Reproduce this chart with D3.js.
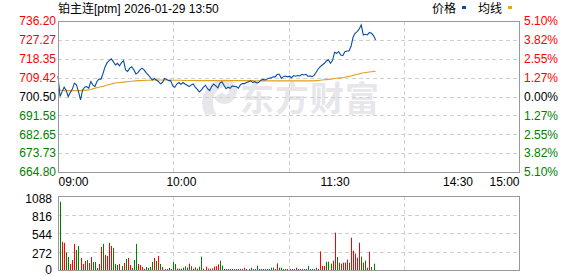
<!DOCTYPE html>
<html>
<head>
<meta charset="utf-8">
<script src="https://cdn.jsdelivr.net/npm/d3@7.9.0/dist/d3.min.js"></script>
<style>
  body { margin: 0; background: #fff; }
  svg { display: block; font-family: Arial, "Liberation Sans", "Noto Sans CJK SC", sans-serif; font-size: 12px; }
</style>
</head>
<body>
<svg id="chart" width="578" height="276"></svg>
<script>
const title = "铂主连[ptm] 2026-01-29 13:50";
const legendNames = ["价格", "均线"];

const priceTicks = [736.20, 727.27, 718.35, 709.42, 700.50, 691.58, 682.65, 673.73, 664.80];
const pctTicks = ["5.10%", "3.82%", "2.55%", "1.27%", "0.00%", "1.27%", "2.55%", "3.82%", "5.10%"];
const tickSide = [1, 1, 1, 1, 0, -1, -1, -1, -1];
const timeLabels = ["09:00", "10:00", "11:30", "14:30", "15:00"];
const timeMinutes = [0, 60, 135, 195, 225];
const volTicks = [0, 272, 544, 816, 1088];

// one value per trading minute from 09:00
const price = [
  710.2, 700.5, 702.8, 704.9, 703.3, 700.5, 702.4, 704.0, 706.8, 706.0,
  702.8, 698.9, 703.6, 704.9, 705.2, 704.4, 707.6, 706.0, 705.2, 707.6,
  708.7, 708.7, 711.5, 714.6, 716.5, 717.5, 718.3, 717.0, 715.4, 716.2,
  715.0, 716.5, 717.5, 713.1, 712.3, 713.9, 714.6, 713.1, 711.2, 711.8,
  713.1, 713.9, 713.1, 711.8, 710.7, 709.6, 708.3, 709.0, 708.3, 707.6,
  706.5, 707.1, 709.0, 708.6, 708.0, 708.0, 705.5, 704.9, 706.4, 707.1,
  706.3, 707.1, 706.4, 705.8, 705.2, 706.0, 706.4, 704.9, 703.9, 702.7,
  703.6, 704.9, 705.8, 704.2, 703.3, 705.2, 706.4, 705.5, 704.6, 706.8,
  707.5, 705.8, 704.2, 704.9, 704.4, 705.5, 705.2, 705.2, 704.4, 706.0,
  706.6, 706.6, 707.1, 707.5, 707.9, 707.2, 707.5, 706.9, 707.2, 708.2,
  708.6, 708.3, 708.8, 709.1, 709.3, 709.8, 709.8, 711.0, 711.0, 709.1,
  709.9, 710.2, 709.8, 710.1, 709.4, 710.4, 710.1, 710.4, 710.2, 711.0,
  710.7, 711.0, 710.1, 710.2, 709.9, 710.5, 712.0, 713.5, 714.6, 715.4,
  716.2, 717.3, 717.9, 716.2, 717.6, 721.4, 720.9, 721.7, 720.1, 719.8,
  721.7, 722.0, 722.0, 724.1, 728.5, 730.4, 731.2, 732.4, 734.3, 729.6,
  729.9, 729.6, 730.8, 730.4, 729.3, 727.2
];

const avgPrice = [
  706.0, 703.6, 703.4, 703.3, 703.3, 703.3, 703.3, 703.3, 703.3, 703.3,
  703.3, 703.3, 703.4, 703.4, 703.5, 703.6, 703.8, 704.1, 704.4, 704.7,
  704.9, 705.1, 705.3, 705.6, 705.9, 706.1, 706.4, 706.7, 706.9, 707.0,
  707.1, 707.2, 707.3, 707.4, 707.5, 707.6, 707.7, 707.8, 707.9, 708.0,
  708.0, 708.1, 708.1, 708.2, 708.2, 708.2, 708.3, 708.3, 708.3, 708.3,
  708.3, 708.3, 708.3, 708.3, 708.3, 708.3, 708.2, 708.2, 708.2, 708.2,
  708.2, 708.1, 708.1, 708.1, 708.1, 708.1, 708.1, 708.1, 708.0, 708.0,
  708.0, 708.0, 708.0, 708.0, 708.0, 708.0, 708.0, 708.0, 708.0, 708.0,
  708.0, 708.0, 708.0, 708.0, 708.0, 708.0, 708.0, 708.0, 708.0, 708.0,
  708.0, 708.0, 708.0, 708.0, 708.0, 708.0, 707.9, 707.9, 707.9, 707.9,
  707.9, 707.9, 707.9, 707.9, 707.9, 707.9, 707.9, 707.9, 707.9, 707.9,
  707.9, 707.9, 707.9, 707.9, 707.9, 707.9, 707.9, 707.9, 707.9, 707.9,
  707.9, 707.9, 707.9, 707.9, 707.9, 707.9, 708.0, 708.1, 708.2, 708.3,
  708.4, 708.5, 708.6, 708.7, 708.8, 709.0, 709.1, 709.2, 709.3, 709.4,
  709.6, 709.8, 710.0, 710.2, 710.5, 710.8, 711.0, 711.2, 711.5, 711.7,
  711.8, 712.0, 712.1, 712.2, 712.3, 712.4
];

const volume = [
  0, 1004, 413, 399, 256, 192, 89, 148, 384, 295, 354,
  177, 89, 133, 148, 103, 192, 118, 118, 30, 89,
  339, 384, 221, 207, 399, 354, 325, 89, 74, 89,
  59, 103, 162, 177, 74, 30, 148, 384, 89, 74,
  44, 15, 44, 30, 44, 118, 177, 133, 207, 89,
  44, 15, 15, 30, 15, 118, 89, 20, 20, 20,
  34, 54, 34, 93, 54, 20, 39, 20, 49, 196,
  20, 49, 20, 20, 25, 49, 54, 83, 137, 64,
  15, 15, 15, 15, 15, 15, 15, 15, 15, 15,
  34, 15, 15, 34, 15, 15, 64, 15, 15, 15,
  15, 15, 15, 34, 34, 15, 98, 34, 34, 15,
  15, 15, 15, 15, 15, 34, 15, 15, 15, 15,
  15, 59, 15, 15, 15, 34, 15, 274, 59, 59,
  123, 123, 93, 137, 549, 191, 108, 93, 108, 108,
  152, 108, 475, 284, 240, 181, 402, 196, 108, 137,
  34, 270, 44, 93
];

// R = up minute (red), G = down minute (green)
const volSide = ("-" +
  "GRRGGRRRGG" + "RRRGRRGGRR" + "RGRRRRGGGR" + "GRGRRGGGRR" + "RRGGGGRGRG" +
  "RRGRRGGRRR" + "GGRRGRRGGG" + "RRRGRRRRGG" + "RRRGRGRGRG" + "RRGGRGGRRR" +
  "RRRGGRRGGR" + "RRGRGRRRRR" + "RGGRGRGRRR" + "GGGRRGRGRR" + "RGRRRRRGRG" +
  "RRGG").split("");

const pL = 58, pR = 519, pT = 21, pB = 172;
const vT = 196, vB = 270;
const red = "#ff0000", green = "#008000";
const sideColor = s => s > 0 ? red : s < 0 ? green : "#000";

const svg = d3.select("#chart");

const x = d3.scaleLinear().domain([0, 225]).range([pL, pR]);
const y = d3.scaleLinear().domain([664.80, 736.20]).range([pB, pT]);
const yv = d3.scaleLinear().domain([0, 1088]).range([vB, vT]);
const crisp = v => Math.round(v) + 0.5;

// watermark
const wm = svg.append("g").attr("fill", "#e6e6eb");
wm.append("path")
  .attr("d", "M206,113 C200,100 206,86 219,82 C231,78 239,86 234,96 C230,104 220,104 216,98 L222,94 C225,98 229,96 230,92 C232,86 226,84 220,87 C211,92 209,103 214,113 Z")
  .attr("stroke", "#e6e6eb").attr("stroke-width", 3);
wm.append("text")
  .attr("x", 240).attr("y", 111)
  .attr("font-family", "'Noto Sans CJK SC', sans-serif")
  .attr("font-weight", "bold")
  .attr("font-size", 34)
  .attr("letter-spacing", 1)
  .text("东方财富");

// grids
function grid(yVals, y0, y1) {
  const g = svg.append("g")
    .attr("stroke", "#d0d0d0")
    .attr("stroke-dasharray", "4,3")
    .attr("fill", "none");
  g.selectAll(".h").data(yVals).join("line")
    .attr("x1", pL).attr("x2", pR)
    .attr("y1", d => crisp(d)).attr("y2", d => crisp(d));
  g.selectAll(".v").data([1, 2, 3]).join("line")
    .attr("x1", d => crisp(x(225 * d / 4))).attr("x2", d => crisp(x(225 * d / 4)))
    .attr("y1", y0).attr("y2", y1);
}
grid(priceTicks.slice(1, -1).map(y), pT, pB);
grid(volTicks.slice(1, -1).map(yv), vT, vB);

// volume bars
svg.append("g").selectAll("rect")
  .data(volume.map((v, i) => ({ i, v, s: volSide[i] })).filter(d => d.v > 0))
  .join("rect")
  .attr("x", d => Math.round(x(d.i)))
  .attr("width", 1)
  .attr("y", d => yv(d.v))
  .attr("height", d => vB - yv(d.v))
  .attr("fill", d => d.s === "R" ? red : green);

// lines
const line = d3.line().x((d, i) => x(i)).y(d => y(d));
svg.append("path").datum(avgPrice)
  .attr("fill", "none").attr("stroke", "#e0a21e").attr("stroke-width", 1.1)
  .attr("d", line);
svg.append("path").datum(price)
  .attr("fill", "none").attr("stroke", "#0b4ea2").attr("stroke-width", 1.1)
  .attr("d", line);

// frames
[[pT, pB], [vT, vB]].forEach(([a, b]) => {
  svg.append("rect")
    .attr("x", pL + 0.5).attr("y", a + 0.5)
    .attr("width", pR - pL).attr("height", b - a)
    .attr("fill", "none").attr("stroke", "#999");
});

// axes
function clean(g) {
  g.select(".domain").remove();
  g.selectAll(".tick line").remove();
  g.selectAll("text").attr("font-size", 12).attr("font-family", null);
}

svg.append("g")
  .attr("transform", `translate(${pL},0)`)
  .call(d3.axisLeft(y).tickValues(priceTicks).tickFormat(d3.format(".2f")).tickSize(0).tickPadding(2))
  .call(clean)
  .selectAll("text").attr("fill", (d, i) => sideColor(tickSide[i]));

svg.append("g")
  .attr("transform", `translate(${pR},0)`)
  .call(d3.axisRight(y).tickValues(priceTicks).tickFormat((d, i) => pctTicks[i]).tickSize(0).tickPadding(5))
  .call(clean)
  .selectAll("text").attr("fill", (d, i) => sideColor(tickSide[i]));

const xt = svg.append("g")
  .attr("transform", `translate(0,${pB})`)
  .call(d3.axisBottom(x).tickValues(timeMinutes).tickFormat((d, i) => timeLabels[i]).tickSize(0).tickPadding(5))
  .call(clean);
xt.selectAll("text")
  .attr("fill", "#000")
  .attr("text-anchor", (d, i) => i === 0 ? "start" : i === timeMinutes.length - 1 ? "end" : "middle");

svg.append("g")
  .attr("transform", `translate(${pL},0)`)
  .call(d3.axisLeft(yv).tickValues(volTicks).tickFormat(d3.format("d")).tickSize(0).tickPadding(6))
  .call(clean)
  .selectAll("text")
  .attr("fill", "#000")
  .attr("transform", d => `translate(0,${d === 0 ? 0 : d === 1088 ? 3 : 2})`);

// title and legend
svg.append("text").attr("x", pL).attr("y", 13).attr("fill", "#000").text(title);

const legend = svg.append("g");
const legendX = [432, 478];
const legendColors = ["#0b4ea2", "#e6a817"];
legendNames.forEach((n, i) => {
  legend.append("text").attr("x", legendX[i]).attr("y", 13).attr("fill", "#000").text(n);
  legend.append("rect")
    .attr("x", legendX[i] + 30).attr("y", 6)
    .attr("width", 4).attr("height", 3)
    .attr("fill", legendColors[i]);
});
</script>
</body>
</html>
